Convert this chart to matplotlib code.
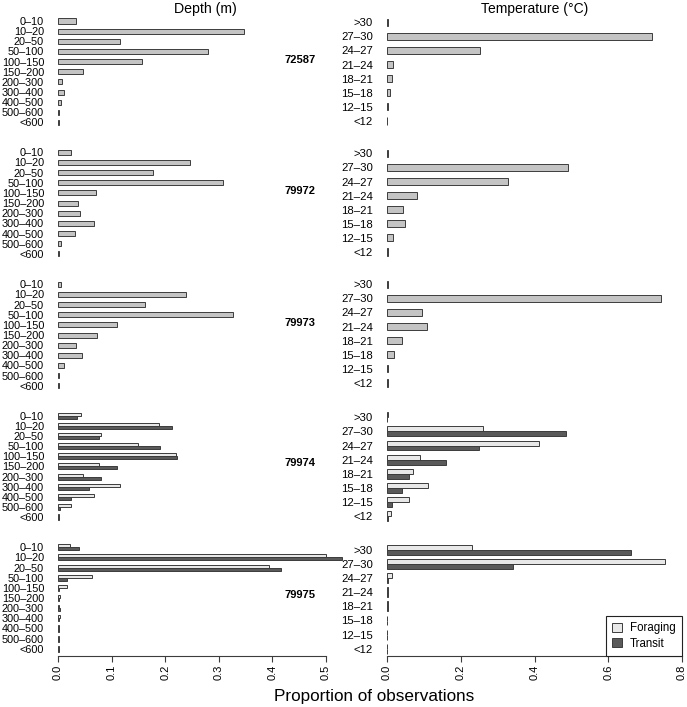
import matplotlib
matplotlib.use("Agg")
import matplotlib.pyplot as plt
from matplotlib.patches import Patch

plt.rcParams['font.family'] = ['Liberation Sans', 'DejaVu Sans']

# ====== Data ======
depth_bins = ["0–10", "10–20", "20–50", "50–100", "100–150", "150–200",
              "200–300", "300–400", "400–500", "500–600", "<600"]
temp_bins = [">30", "27–30", "24–27", "21–24", "18–21", "15–18", "12–15", "<12"]
stations = ["72587", "79972", "79973", "79974", "79975"]

# single-series tags
depth_72587 = [0.034, 0.347, 0.116, 0.279, 0.156, 0.047, 0.008, 0.012, 0.005, 0.001, 0.001]
temp_72587 = [0.002, 0.718, 0.251, 0.016, 0.013, 0.009, 0.002, 0.001]
depth_79972 = [0.024, 0.247, 0.178, 0.308, 0.070, 0.037, 0.041, 0.067, 0.032, 0.005, 0.001]
temp_79972 = [0.002, 0.492, 0.327, 0.081, 0.043, 0.048, 0.017, 0.002]
depth_79973 = [0.005, 0.238, 0.162, 0.327, 0.111, 0.073, 0.034, 0.044, 0.012, 0.001, 0.001]
temp_79973 = [0.004, 0.742, 0.095, 0.108, 0.041, 0.019, 0.002, 0.002]

# foraging / transit tags
depth_79974_for = [0.042, 0.188, 0.080, 0.149, 0.220, 0.077, 0.047, 0.116, 0.067, 0.024, 0.002]
depth_79974_tra = [0.035, 0.212, 0.076, 0.190, 0.222, 0.111, 0.080, 0.057, 0.024, 0.004, 0.002]
temp_79974_for = [0.002, 0.260, 0.412, 0.089, 0.071, 0.112, 0.060, 0.012]
temp_79974_tra = [0.001, 0.485, 0.250, 0.159, 0.060, 0.040, 0.013, 0.004]
depth_79975_for = [0.022, 0.500, 0.393, 0.063, 0.016, 0.004, 0.002, 0.003, 0.001, 0.001, 0.001]
depth_79975_tra = [0.039, 0.530, 0.416, 0.017, 0.002, 0.002, 0.003, 0.002, 0.001, 0.001, 0.001]
temp_79975_for = [0.231, 0.753, 0.014, 0.003, 0.003, 0.001, 0.001, 0.001]
temp_79975_tra = [0.662, 0.342, 0.002, 0.004, 0.004, 0.001, 0.001, 0.001]

depth_data = [[depth_72587], [depth_79972], [depth_79973],
              [depth_79974_for, depth_79974_tra], [depth_79975_for, depth_79975_tra]]
temp_data = [[temp_72587], [temp_79972], [temp_79973],
             [temp_79974_for, temp_79974_tra], [temp_79975_for, temp_79975_tra]]

# ====== Style / layout (pixels) ======
W, H = 687, 707
SINGLE_COL = "#c4c4c4"
FOR_COL = "#e8e8e8"
TRA_COL = "#5a5a5a"
EDGE = "#3c3c3c"

d_left, d_width, d_scale = 58, 300, 536.0      # px per unit proportion
t_left, t_width, t_scale = 387, 298, 368.75
d_row0 = [21, 152.3, 284.3, 415.7, 547.3]
t_row0 = [22.3, 153.3, 284.3, 417.3, 550]
d_step, t_step = 10.15, 14.1
label_y = [60, 190.7, 322.7, 463.3, 595]

fig = plt.figure(figsize=(W / 100, H / 100), dpi=100)


def px_axes(left, top, width, height):
    return fig.add_axes([left / W, 1 - (top + height) / H, width / W, height / H])


def draw_panel(ax, series, labels, single_h, pair_h, fs):
    n = len(labels)
    rows = list(range(n))
    if len(series) == 1:
        ax.barh(rows, series[0], height=single_h, color=SINGLE_COL,
                edgecolor=EDGE, linewidth=0.7)
    else:
        ax.barh([r - pair_h / 2 for r in rows], series[0], height=pair_h,
                color=FOR_COL, edgecolor=EDGE, linewidth=0.7)
        ax.barh([r + pair_h / 2 for r in rows], series[1], height=pair_h,
                color=TRA_COL, edgecolor=EDGE, linewidth=0.7)
    ax.set_ylim(n - 0.5, -0.5)
    ax.set_yticks(rows)
    ax.set_yticklabels(labels, fontsize=fs)
    ax.tick_params(axis='y', length=0, pad=10)
    for s in ax.spines.values():
        s.set_visible(False)
    ax.set_xticks([])
    ax.patch.set_visible(False)


for k in range(5):
    n_d = len(depth_bins)
    axd = px_axes(d_left, d_row0[k] - d_step / 2, d_width, n_d * d_step)
    draw_panel(axd, depth_data[k], depth_bins, 0.5, 0.3, 7.8)
    axd.set_xlim(0, d_width / d_scale)

    n_t = len(temp_bins)
    axt = px_axes(t_left, t_row0[k] - t_step / 2, t_width, n_t * t_step)
    draw_panel(axt, temp_data[k], temp_bins, 0.5, 0.35, 8.2)
    axt.set_xlim(0, t_width / t_scale)

    fig.text(300 / W, 1 - label_y[k] / H, stations[k], fontsize=8, fontweight='bold',
             ha='center', va='center')

    if k == 4:
        for ax, ticks, offs in [(axd, [0.0, 0.1, 0.2, 0.3, 0.4, 0.5], 1.6),
                                (axt, [0.0, 0.2, 0.4, 0.6, 0.8], 0.2)]:
            ax.spines['bottom'].set_visible(True)
            ax.spines['bottom'].set_bounds(ticks[0], ticks[-1])
            ax.spines['bottom'].set_position(('outward', offs))
            ax.spines['bottom'].set_color(EDGE)
            ax.spines['bottom'].set_linewidth(0.8)
            ax.set_xticks(ticks)
            ax.set_xticklabels([f"{t:.1f}" for t in ticks], rotation=90, fontsize=8)
            ax.tick_params(axis='x', length=4, width=0.8, color=EDGE, pad=2)
        leg_handles = [Patch(facecolor=FOR_COL, edgecolor=EDGE, linewidth=0.7, label="Foraging"),
                       Patch(facecolor=TRA_COL, edgecolor=EDGE, linewidth=0.7, label="Transit")]
        leg = fig.legend(handles=leg_handles, loc='lower right',
                         bbox_to_anchor=(682 / W, 1 - 656 / H), fontsize=8.3,
                         fancybox=False, framealpha=1, edgecolor="#222222",
                         handlelength=0.85, handleheight=0.85, handletextpad=0.7,
                         borderpad=0.55, labelspacing=0.3, borderaxespad=0)
        leg.get_frame().set_linewidth(0.8)

fig.text(205 / W, 1 - 9 / H, "Depth (m)", fontsize=10.2, ha='center', va='center')
fig.text(535 / W, 1 - 8.5 / H, "Temperature (°C)", fontsize=10, ha='center', va='center')
fig.text(374 / W, 1 - 697 / H, "Proportion of observations", fontsize=12.3,
         ha='center', va='center')

fig.savefig("out.png", dpi=100)
